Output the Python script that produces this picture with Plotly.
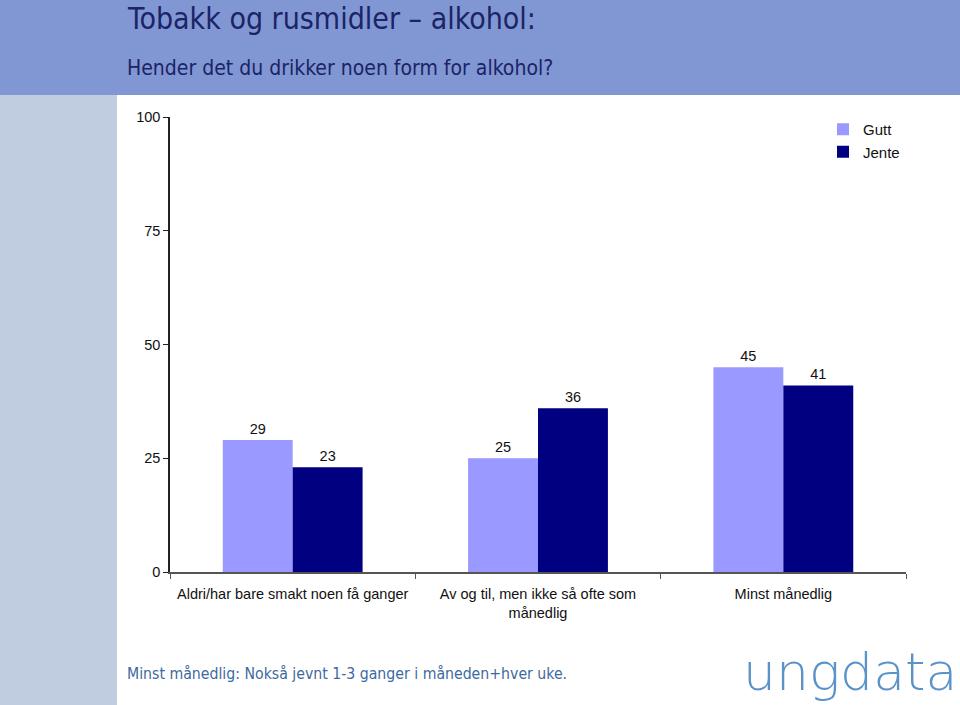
import plotly.graph_objects as go

categories = ["Aldri/har bare smakt noen få ganger",
              "Av og til, men ikke så ofte som<br>månedlig",
              "Minst månedlig"]
gutt = [29, 25, 45]
jente = [23, 36, 41]
y_ticks = [0, 25, 50, 75, 100]

W, H = 960, 705
L, R, T, B = 170, 906, 117, 572

def px(x):
    return (x - L) / (R - L)

def py(y):
    return (B - y) / (B - T)

lbl_font = dict(family="Liberation Sans", size=14.5, color="#111111")

fig = go.Figure()
fig.add_trace(go.Bar(name="Gutt", x=categories, y=gutt, marker_color="#9999FF",
                     marker_line_width=0,
                     text=gutt, textposition="outside", cliponaxis=False,
                     textfont=lbl_font))
fig.add_trace(go.Bar(name="Jente", x=categories, y=jente, marker_color="#000080",
                     marker_line_width=0,
                     text=jente, textposition="outside", cliponaxis=False,
                     textfont=lbl_font))

shapes = [
    dict(type="rect", xref="paper", yref="paper", x0=px(0), x1=px(W), y0=py(95), y1=py(0),
         fillcolor="#8197D3", line_width=0, layer="below"),
    dict(type="rect", xref="paper", yref="paper", x0=px(0), x1=px(117), y0=py(H), y1=py(95),
         fillcolor="#C0CCE0", line_width=0, layer="below"),
]

annotations = [
    dict(text="Tobakk og rusmidler – alkohol:", xref="paper", yref="paper",
         x=px(125), y=py(18), xanchor="left", yanchor="middle", showarrow=False,
         font=dict(family="DejaVu Sans Condensed", size=30, color="#1B2466")),
    dict(text="Hender det du drikker noen form for alkohol?", xref="paper", yref="paper",
         x=px(125), y=py(68), xanchor="left", yanchor="middle", showarrow=False,
         font=dict(family="DejaVu Sans Condensed", size=21, color="#1B2466")),
    dict(text="Minst månedlig: Nokså jevnt 1-3 ganger i måneden+hver uke.", xref="paper", yref="paper",
         x=px(125), y=py(673), xanchor="left", yanchor="middle", showarrow=False,
         font=dict(family="DejaVu Sans Condensed", size=15.7, color="#3D6A9E")),
    dict(text="ungdata", xref="paper", yref="paper",
         x=px(959), y=py(672), xanchor="right", yanchor="middle", showarrow=False,
         font=dict(family="DejaVu Sans", size=52, color="#5B93C9", weight=200)),
]

fig.update_layout(
    width=W, height=H,
    margin=dict(l=L, r=W - R, t=T, b=H - B),
    paper_bgcolor="white", plot_bgcolor="white",
    barmode="group", bargap=0.43, bargroupgap=0,
    shapes=shapes, annotations=annotations,
    legend=dict(x=px(823), y=py(113), xanchor="left", yanchor="top",
                font=dict(family="Liberation Sans", size=15, color="#111111"),
                bgcolor="rgba(0,0,0,0)"),
    showlegend=True,
    yaxis=dict(range=[0, 100], tickvals=y_ticks, showgrid=False, zeroline=False,
               showline=True, linecolor="#222222", linewidth=1.5,
               ticks="outside", ticklen=5, tickcolor="#222222",
               tickfont=dict(family="Liberation Sans", size=14.5, color="#111111")),
    xaxis=dict(showgrid=False, zeroline=False, showline=True, linecolor="#555555", linewidth=1.5,
               ticks="outside", ticklen=5, tickcolor="#555555", tickson="boundaries",
               ticklabelstandoff=8,
               tickfont=dict(family="Liberation Sans", size=14.5, color="#111111")),
)

fig.write_html("out.html", config={"displayModeBar": False},
               post_script="document.body.style.margin='0';document.body.style.overflow='hidden';")
